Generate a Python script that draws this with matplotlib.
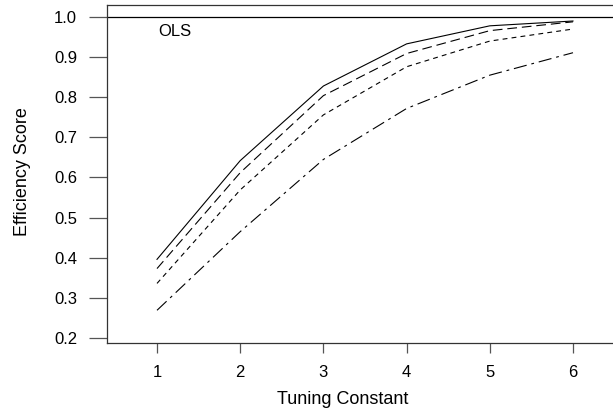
import matplotlib
matplotlib.use('agg')
import matplotlib.pyplot as plt

# Datos
tuning = [1, 2, 3, 4, 5, 6]
eff_solid = [0.396, 0.642, 0.828, 0.933, 0.978, 0.990]
eff_longdash = [0.373, 0.612, 0.804, 0.909, 0.966, 0.988]
eff_shortdash = [0.336, 0.569, 0.756, 0.876, 0.940, 0.970]
eff_dashdot = [0.269, 0.465, 0.645, 0.772, 0.855, 0.911]
y_ticks = [0.2, 0.3, 0.4, 0.5, 0.6, 0.7, 0.8, 0.9, 1.0]

plt.rcParams['font.family'] = ['Liberation Sans', 'DejaVu Sans']
plt.rcParams['lines.scale_dashes'] = False

fig = plt.figure(figsize=(6.13, 4.13), dpi=100)
ax = fig.add_axes([107 / 613, 1 - 343 / 413, 518 / 613, 338 / 413])

lw = 0.8
ax.plot(tuning, eff_solid, color='black', lw=lw)
ax.plot(tuning, eff_longdash, color='black', lw=lw, dashes=(7, 3.5))
ax.plot(tuning, eff_shortdash, color='black', lw=lw, dashes=(3.5, 3))
ax.plot(tuning, eff_dashdot, color='black', lw=lw, dashes=(9.5, 3.5, 2, 3.5))

# línea de referencia OLS
ax.axhline(1.0, color='black', lw=0.9)
ax.text(1.01, 0.963, 'OLS', fontsize=12, ha='left', va='center')

ax.set_xlim(0.399, 6.625)
ax.set_ylim(0.1875, 1.0299)
ax.set_xticks(tuning)
ax.set_yticks(y_ticks)
ax.set_yticklabels([f'{v:.1f}' for v in y_ticks])

for s in ['left', 'bottom', 'top']:
    ax.spines[s].set_color('#333333')
    ax.spines[s].set_linewidth(0.9)
ax.spines['right'].set_visible(False)

ax.tick_params(axis='x', length=7.5, width=0.9, color='#555555', pad=8, labelsize=12)
ax.tick_params(axis='y', length=13, width=0.9, color='#555555', pad=8.5, labelsize=12)

ax.set_xlabel('Tuning Constant', fontsize=13)
ax.set_ylabel('Efficiency Score', fontsize=13)
ax.xaxis.set_label_coords(343 / 613, 1 - 400 / 413, transform=fig.transFigure)
ax.yaxis.set_label_coords(23 / 613, 1 - 172 / 413, transform=fig.transFigure)
ax.xaxis.label.set_va('center')
ax.yaxis.label.set_va('center')

fig.savefig('out.png', dpi=100)
plt.close(fig)
